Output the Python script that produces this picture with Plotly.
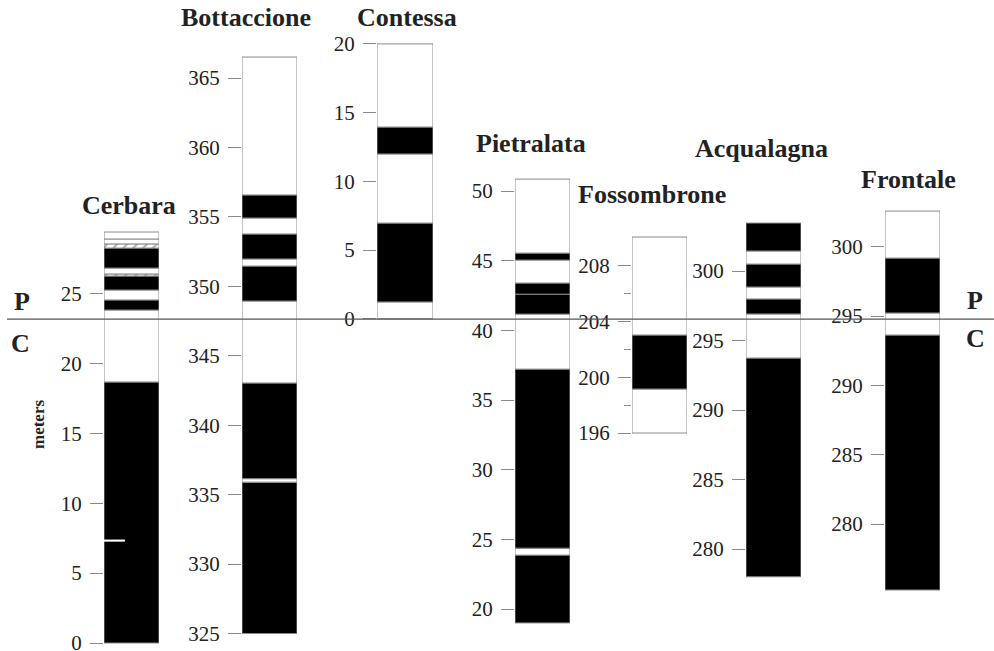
import plotly.graph_objects as go

# ---------------- data (meters, bottom -> top), polarity: N = normal (black), R = reversed (white), U = uncertain (hatched)
cerbara_bounds = [0.0, 18.67, 23.82, 24.54, 25.25, 26.25, 26.40, 26.82, 28.25, 28.55, 28.90, 29.40]
cerbara_pol = ["N", "R", "N", "R", "N", "U", "R", "N", "U", "R", "R"]
cerbara_short_rev = [7.25, 7.40]

bottaccione_bounds = [325.0, 335.90, 336.15, 343.04, 348.94, 351.46, 351.97, 353.77, 354.92, 356.58, 366.51]
bottaccione_pol = ["N", "R", "N", "R", "N", "R", "N", "R", "N", "R"]

contessa_bounds = [0.0, 1.22, 6.96, 11.99, 13.95, 20.0]
contessa_pol = ["R", "N", "R", "N", "R"]

pietralata_bounds = [19.0, 23.87, 24.37, 37.22, 41.17, 42.60, 43.40, 45.05, 45.55, 50.86]
pietralata_pol = ["N", "R", "N", "R", "N", "N", "R", "N", "R"]

fossombrone_bounds = [196.0, 199.16, 203.04, 210.08]
fossombrone_pol = ["R", "N", "R"]

acqualagna_bounds = [278.0, 293.74, 296.91, 297.99, 298.85, 300.50, 301.44, 303.45]
acqualagna_pol = ["N", "R", "N", "R", "N", "R", "N"]

frontale_bounds = [275.24, 293.63, 295.22, 299.18, 302.57]
frontale_pol = ["N", "R", "N", "R"]

section_names = ["Cerbara", "Bottaccione", "Contessa", "Pietralata", "Fossombrone", "Acqualagna", "Frontale"]

cerbara_ticks = [0, 5, 10, 15, 20, 25]
bottaccione_ticks = [325, 330, 335, 340, 345, 350, 355, 360, 365]
contessa_ticks = [0, 5, 10, 15, 20]
pietralata_ticks = [20, 25, 30, 35, 40, 45, 50]
fossombrone_ticks = [196, 200, 204, 208]
fossombrone_minor = [198, 202, 206]
acqualagna_ticks = [280, 285, 290, 295, 300]
frontale_ticks = [280, 285, 290, 295, 300]

cerbara_kpg = 23.17  # K/Pg (C/P) boundary level in Cerbara section

# ---------------- layout geometry (pixels) for each column
W, H = 994, 651
col_px = [(104, 159), (242, 297), (377, 433), (515, 570), (632, 687), (746, 801), (885, 940)]
y_ranges = [(-0.572, 45.995), (323.74, 370.617), (-24.185, 23.195), (16.985, 63.718),
            (180.339, 227.106), (272.662, 319.497), (270.84, 317.793)]

sections = [
    (cerbara_bounds, cerbara_pol, cerbara_ticks, None),
    (bottaccione_bounds, bottaccione_pol, bottaccione_ticks, None),
    (contessa_bounds, contessa_pol, contessa_ticks, None),
    (pietralata_bounds, pietralata_pol, pietralata_ticks, None),
    (fossombrone_bounds, fossombrone_pol, fossombrone_ticks, fossombrone_minor),
    (acqualagna_bounds, acqualagna_pol, acqualagna_ticks, None),
    (frontale_bounds, frontale_pol, frontale_ticks, None),
]

COL = {"N": "black", "R": "white", "U": "white"}
PAT = {"N": "", "R": "", "U": "/"}
EDGE = "#8a8a8a"
SERIF = "Liberation Serif"

fig = go.Figure()
layout = dict(
    width=W, height=H,
    margin=dict(l=0, r=0, t=0, b=0, autoexpand=False),
    paper_bgcolor="white", plot_bgcolor="white",
    showlegend=False, barmode="overlay",
)

for i, (bounds, pol, ticks, minor) in enumerate(sections):
    n = i + 1
    xa = "x" if n == 1 else f"x{n}"
    ya = "y" if n == 1 else f"y{n}"
    bases = bounds[:-1]
    heights = [b - a for a, b in zip(bounds[:-1], bounds[1:])]
    fig.add_trace(go.Bar(
        x=[0] * len(bases), y=heights, base=bases, width=1.0,
        xaxis=xa, yaxis=ya,
        marker=dict(color=[COL[p] for p in pol],
                    line=dict(color=EDGE, width=1),
                    pattern=dict(shape=[PAT[p] for p in pol], fgcolor="black",
                                 bgcolor="white", size=7, solidity=0.25)),
        hoverinfo="skip",
    ))
    x0, x1 = col_px[i]
    xkey = "xaxis" if n == 1 else f"xaxis{n}"
    ykey = "yaxis" if n == 1 else f"yaxis{n}"
    layout[xkey] = dict(domain=[x0 / W, x1 / W], range=[-0.5, 0.5], visible=False,
                        anchor=ya, fixedrange=True)
    yax = dict(domain=[0, 1], range=list(y_ranges[i]), anchor=xa, side="left",
               showgrid=False, zeroline=False, showline=False,
               tickmode="array", tickvals=ticks, ticks="outside", ticklen=13,
               tickcolor=EDGE, tickwidth=1, ticklabelstandoff=4,
               ticklabeloverflow="allow",
               tickfont=dict(family=SERIF, size=21, color="#222"), fixedrange=True)
    if minor:
        yax["minor"] = dict(tickmode="array", tickvals=minor, ticks="outside",
                            ticklen=7, tickcolor=EDGE, tickwidth=1, showgrid=False)
    layout[ykey] = yax

# short reversed sliver in Cerbara
fig.add_trace(go.Bar(
    x=[-0.31], y=[cerbara_short_rev[1] - cerbara_short_rev[0]], base=[cerbara_short_rev[0]],
    width=0.38, xaxis="x", yaxis="y", marker=dict(color="white", line=dict(width=0)),
    hoverinfo="skip"))

fig.update_layout(**layout)

# C/P boundary line across all sections
fig.add_shape(type="line", xref="paper", yref="y", x0=7 / W, x1=1, y0=cerbara_kpg, y1=cerbara_kpg,
              line=dict(color="#555", width=1.2), layer="above")

title_pos = [(129, 205), (246, 18), (407, 18), (531, 143), (652, 195), (761, 149), (908, 179)]
for name, (tx, ty) in zip(section_names, title_pos):
    fig.add_annotation(text=f"<b>{name}</b>", x=tx / W, y=1 - ty / H, xref="paper", yref="paper",
                       showarrow=False, xanchor="center", yanchor="middle",
                       font=dict(family=SERIF, size=26, color="#222"))

for txt, (tx, ty) in [("P", (22, 301)), ("C", (20, 343)), ("P", (975, 300)), ("C", (975, 338))]:
    fig.add_annotation(text=f"<b>{txt}</b>", x=tx / W, y=1 - ty / H, xref="paper", yref="paper",
                       showarrow=False, xanchor="center", yanchor="middle",
                       font=dict(family=SERIF, size=26, color="#222"))

fig.add_annotation(text="<b>meters</b>", x=38 / W, y=1 - 425 / H, xref="paper", yref="paper",
                   showarrow=False, textangle=-90, xanchor="center", yanchor="middle",
                   font=dict(family=SERIF, size=17, color="#222"))

fig.write_html("out.html", config={"displayModeBar": False},
               post_script="document.body.style.margin='0';document.body.style.padding='0';"
                           "document.body.style.overflow='hidden';")
